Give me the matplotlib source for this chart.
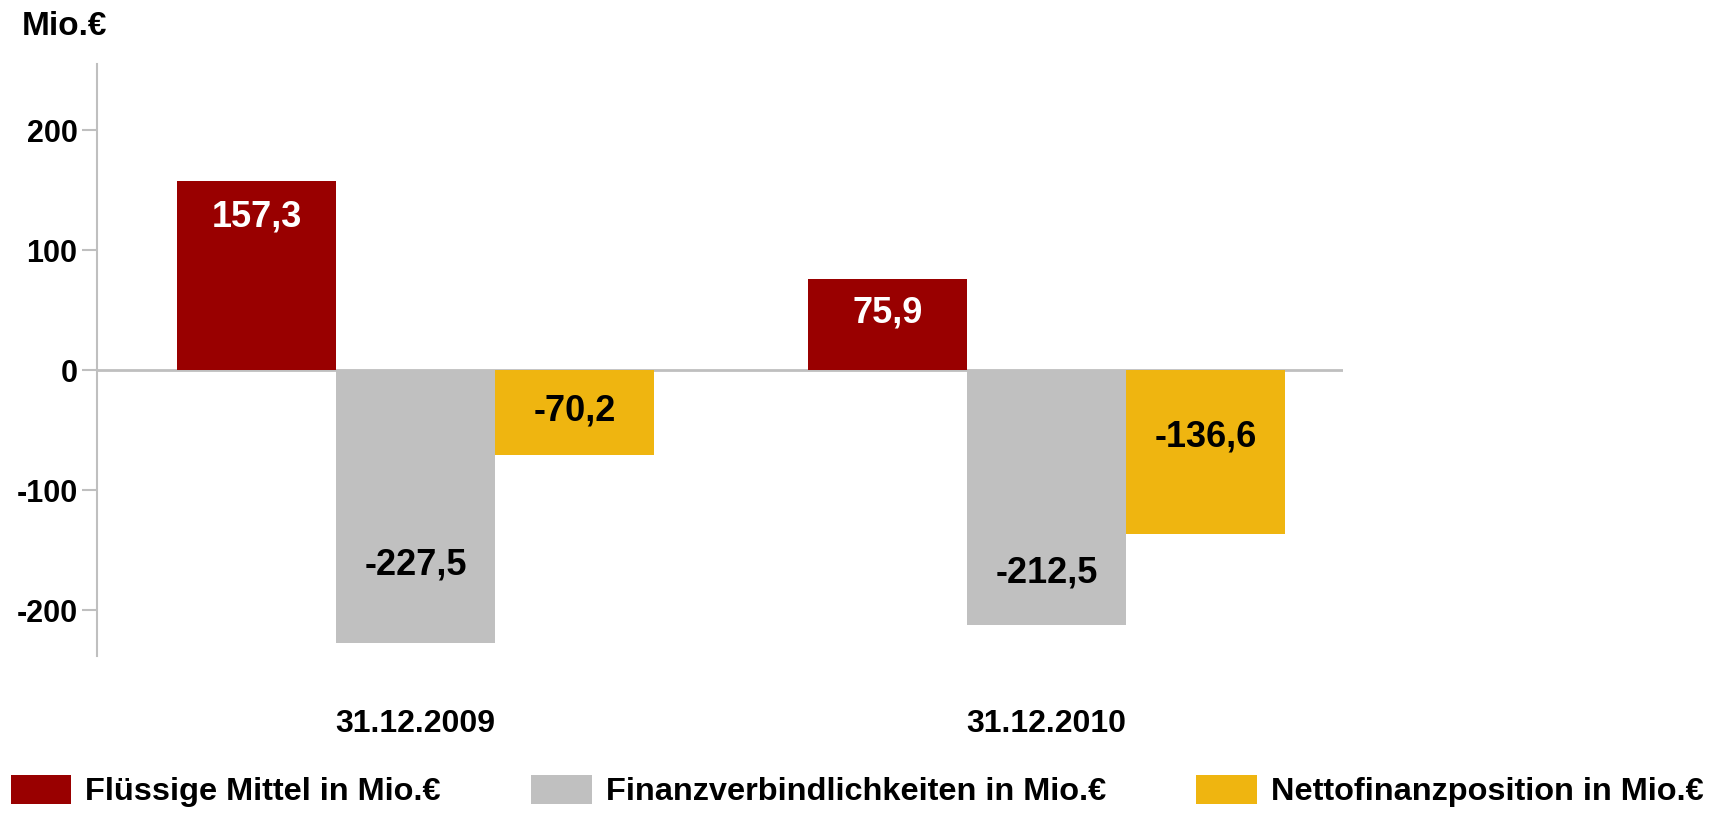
import numpy as np
import matplotlib
matplotlib.use('Agg')
import matplotlib.pyplot as plt

plt.rcParams['font.family'] = ['Liberation Sans', 'DejaVu Sans']
plt.rcParams['font.weight'] = 'bold'

# data
dates = ['31.12.2009', '31.12.2010']
series = ['Flüssige Mittel in Mio.€', 'Finanzverbindlichkeiten in Mio.€', 'Nettofinanzposition in Mio.€']
fluessige = [157.3, 75.9]
finanzverb = [-227.5, -212.5]
netto = [-70.2, -136.6]
value_labels = [['157,3', '75,9'], ['-227,5', '-212,5'], ['-70,2', '-136,6']]
# where the value labels sit inside the bars (data units)
label_y = [[128, 48], [-162, -169], [-34, -56]]
yticks = [-200, -100, 0, 100, 200]

colors = ['#990000', '#C0C0C0', '#EFB510']
label_colors = ['white', 'black', 'black']
axis_grey = '#BFBFBF'

fig = plt.figure(figsize=(17.15, 8.14), dpi=100)
ax = fig.add_axes([97/1715, 158/814, (1343-97)/1715, (656-64)/814])

x = np.arange(len(dates))
w = 0.252
for i, vals in enumerate([fluessige, finanzverb, netto]):
    pos = x + (i - 1) * w
    ax.bar(pos, vals, width=w, color=colors[i], label=series[i], zorder=2)
    for j in range(len(dates)):
        ax.text(pos[j], label_y[i][j], value_labels[i][j], ha='center', va='center',
                fontsize=26, fontweight='bold', color=label_colors[i], zorder=3)

ax.axhline(0, color=axis_grey, linewidth=2, zorder=1)

ax.set_xlim(-0.505, 1.47)
ax.set_ylim(-238, 255)
ax.set_yticks(yticks)
ax.set_yticklabels([str(t) for t in yticks], fontsize=22, fontweight='bold')
ax.set_xticks(x)
ax.set_xticklabels(dates, fontsize=23, fontweight='bold')
ax.tick_params(axis='x', length=0, pad=38)
ax.tick_params(axis='y', length=11, width=1.5, color=axis_grey, pad=3)

for s in ['top', 'right', 'bottom']:
    ax.spines[s].set_visible(False)
ax.spines['left'].set_color(axis_grey)
ax.spines['left'].set_linewidth(1.5)

fig.text(22/1715, 1 - 35/814, 'Mio.€', fontsize=24, fontweight='bold', va='baseline', ha='left')

fig.legend(loc='center left', bbox_to_anchor=(11/1715, 23/814), ncol=3, frameon=False,
           prop={'weight': 'bold', 'size': 23.4}, handlelength=1.85, handleheight=1.02,
           handletextpad=0.44, columnspacing=2.78, borderpad=0, borderaxespad=0)

fig.savefig('out.png', dpi=100)
